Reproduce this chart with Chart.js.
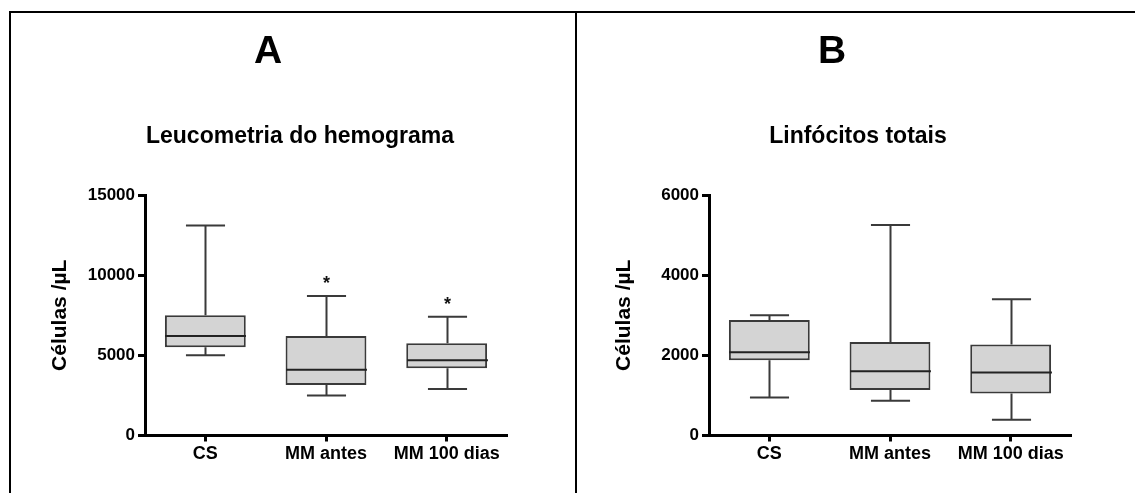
<!DOCTYPE html>
<html>
<head>
<meta charset="utf-8">
<script src="https://cdn.jsdelivr.net/npm/chart.js@4.4.1/dist/chart.umd.min.js"></script>
<style>
  html, body { margin: 0; padding: 0; background: #fff; }
  body { width: 1135px; height: 493px; position: relative; overflow: hidden;
         font-family: "Liberation Sans", Arial, Helvetica, sans-serif; }
  .panel { position: absolute; top: 0; width: 565px; height: 493px; }
  .rule { position: absolute; background: #000; z-index: 2; }
  .label { position: absolute; width: 400px; text-align: center; font-weight: bold;
           color: #000; line-height: 1; white-space: nowrap; z-index: 3; }
  .letter { font-size: 39px; top: 30px; }
  .heading { font-size: 23px; top: 124px; }
</style>
</head>
<body>
<div class="panel" style="left:0"><canvas id="chartA" width="565" height="493"></canvas></div>
<div class="panel" style="left:564px"><canvas id="chartB" width="565" height="493"></canvas></div>
<div class="rule" style="left:9px; top:11px; width:1126px; height:2px"></div>
<div class="rule" style="left:9px; top:11px; width:2px; height:482px"></div>
<div class="rule" style="left:575px; top:11px; width:2px; height:482px"></div>
<div class="label letter" style="left:68px">A</div>
<div class="label heading" style="left:100px">Leucometria do hemograma</div>
<div class="label letter" style="left:632px">B</div>
<div class="label heading" style="left:658px">Linfócitos totais</div>
<script>
// Groups on the x axis
const categories = ['CS', 'MM antes', 'MM 100 dias'];

// Leucometria do hemograma (células/µL): box-plot summary per group
const leucoMin    = [5000, 2500, 2900];
const leucoQ1     = [5500, 3150, 4200];
const leucoMedian = [6200, 4100, 4700];
const leucoQ3     = [7500, 6200, 5750];
const leucoMax    = [13100, 8700, 7400];
const leucoMarks  = ['', '*', '*'];
const leucoTicks  = [0, 5000, 10000, 15000];

// Linfócitos totais (células/µL)
const linfoMin    = [950, 870, 390];
const linfoQ1     = [1880, 1135, 1050];
const linfoMedian = [2080, 1600, 1570];
const linfoQ3     = [2880, 2330, 2270];
const linfoMax    = [3000, 5250, 3400];
const linfoMarks  = ['', '', ''];
const linfoTicks  = [0, 2000, 4000, 6000];

const FONT = '"Liberation Sans", Arial, Helvetica, sans-serif';
const LINE = '#3a3a3a';

// Whiskers, medians and significance marks drawn on top of the floating bars
const boxExtras = {
  id: 'boxExtras',
  afterDatasetsDraw(chart, args, opts) {
    const {ctx, scales: {x, y}} = chart;
    const step = x.getPixelForValue(1) - x.getPixelForValue(0);
    const capHalf = step * 0.162;
    const boxHalf = step * 0.335;
    ctx.save();
    ctx.lineCap = 'butt';
    opts.min.forEach((mn, i) => {
      const cx = Math.round(x.getPixelForValue(i)) + 0.5;
      const pMin = y.getPixelForValue(mn);
      const pQ1 = y.getPixelForValue(opts.q1[i]);
      const pMed = y.getPixelForValue(opts.median[i]);
      const pQ3 = y.getPixelForValue(opts.q3[i]);
      const pMax = y.getPixelForValue(opts.max[i]);
      ctx.strokeStyle = LINE;
      ctx.lineWidth = 2;
      ctx.beginPath();
      ctx.moveTo(cx, pQ3); ctx.lineTo(cx, pMax);
      ctx.moveTo(cx - capHalf, pMax); ctx.lineTo(cx + capHalf, pMax);
      ctx.moveTo(cx, pQ1); ctx.lineTo(cx, pMin);
      ctx.moveTo(cx - capHalf, pMin); ctx.lineTo(cx + capHalf, pMin);
      ctx.stroke();
      ctx.strokeStyle = '#222';
      ctx.beginPath();
      ctx.moveTo(cx - boxHalf, pMed); ctx.lineTo(cx + boxHalf, pMed);
      ctx.stroke();
      if (opts.marks[i]) {
        ctx.fillStyle = '#111';
        ctx.font = 'bold 18px ' + FONT;
        ctx.textAlign = 'center';
        ctx.textBaseline = 'alphabetic';
        ctx.fillText(opts.marks[i], cx, pMax - 7);
      }
    });
    ctx.restore();
  }
};

function makeChart(id, q1, q3, extras, yMax, ticks) {
  return new Chart(document.getElementById(id), {
    type: 'bar',
    data: {
      labels: categories,
      datasets: [{
        data: q1.map((v, i) => [v, q3[i]]),
        backgroundColor: '#d4d4d4',
        borderColor: LINE,
        borderWidth: 2,
        borderSkipped: false,
        barPercentage: 0.67,
        categoryPercentage: 1.0
      }]
    },
    options: {
      responsive: false,
      animation: false,
      events: [],
      layout: { padding: { left: 0, right: 58, top: 195, bottom: 0 } },
      plugins: {
        legend: { display: false },
        tooltip: { enabled: false },
        boxExtras: extras
      },
      scales: {
        x: {
          offset: true,
          grid: { offset: false, drawOnChartArea: false, drawTicks: true, tickLength: 6, tickWidth: 3, tickColor: '#000' },
          border: { display: true, color: '#000', width: 3 },
          ticks: { color: '#000', padding: 2, font: { family: FONT, size: 18, weight: 'bold' } },
          afterFit(scale) { scale.height = 57.5; }
        },
        y: {
          min: 0,
          max: yMax,
          afterBuildTicks(scale) { scale.ticks = ticks.map(v => ({ value: v })); },
          grid: { drawOnChartArea: false, drawTicks: true, tickLength: 7, tickWidth: 3, tickColor: '#000' },
          border: { display: true, color: '#000', width: 3 },
          ticks: { color: '#000', padding: 3, font: { family: FONT, size: 17, weight: 'bold' }, callback: v => String(v) },
          title: {
            display: true,
            text: 'Células /µL',
            color: '#000',
            font: { family: FONT, size: 21, weight: 'bold', lineHeight: 1.2 },
            padding: { top: 48, bottom: 0 }
          },
          afterFit(scale) { scale.width = 145; }
        }
      }
    },
    plugins: [boxExtras]
  });
}

makeChart('chartA', leucoQ1, leucoQ3,
  { min: leucoMin, q1: leucoQ1, median: leucoMedian, q3: leucoQ3, max: leucoMax, marks: leucoMarks },
  15000, leucoTicks);

makeChart('chartB', linfoQ1, linfoQ3,
  { min: linfoMin, q1: linfoQ1, median: linfoMedian, q3: linfoQ3, max: linfoMax, marks: linfoMarks },
  6000, linfoTicks);
</script>
</body>
</html>
